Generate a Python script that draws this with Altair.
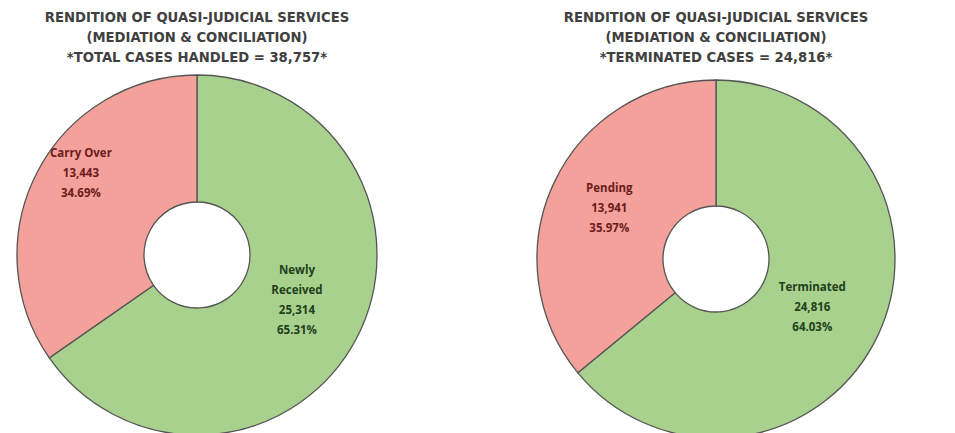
import altair as alt
import pandas as pd

# ---- data ----
left_names = ["Newly\nReceived", "Carry Over"]
left_values = [25314, 13443]
left_pcts = ["65.31%", "34.69%"]
left_title = ["RENDITION OF QUASI-JUDICIAL SERVICES",
              "(MEDIATION & CONCILIATION)",
              "*TOTAL CASES HANDLED = 38,757*"]

right_names = ["Terminated", "Pending"]
right_values = [24816, 13941]
right_pcts = ["64.03%", "35.97%"]
right_title = ["RENDITION OF QUASI-JUDICIAL SERVICES",
               "(MEDIATION & CONCILIATION)",
               "*TERMINATED CASES = 24,816*"]

rows = []
for d, names, vals, pcts in [("L", left_names, left_values, left_pcts),
                             ("R", right_names, right_values, right_pcts)]:
    for i, (n, v, p) in enumerate(zip(names, vals, pcts)):
        rows.append({"donut": d, "cat": n.replace("\n", " "), "value": v,
                     "ord": i + 1, "label": f"{n}\n{v:,}\n{p}",
                     "kind": "green" if i == 0 else "pink"})
df = pd.DataFrame(rows)

GREEN = "#A9D18E"
PINK = "#F4A19B"
DKGREEN = "#22401A"
DKRED = "#6B1C1C"

color_scale = alt.Scale(domain=["green", "pink"], range=[GREEN, PINK])

base = alt.Chart(df)

def donut(d, cx, cy, R, r_in, green_lbl, pink_lbl, title_lines):
    b = base.transform_filter(alt.datum.donut == d)
    theta = alt.Theta("value:Q", stack=True)
    order = alt.Order("ord:Q")
    arcs = b.mark_arc(outerRadius=R, innerRadius=r_in, stroke="#555555",
                      strokeWidth=1.3).encode(
        x=alt.value(cx), y=alt.value(cy), theta=theta, order=order,
        color=alt.Color("kind:N", scale=color_scale, legend=None))
    layers = [arcs]
    for (rad, dx, dy), col, o in [(green_lbl, DKGREEN, 1), (pink_lbl, DKRED, 2)]:
        layers.append(b.mark_text(radius=rad, dx=dx, dy=dy, lineBreak="\n",
                                  lineHeight=20, font="Open Sans", fontSize=11.5,
                                  fontWeight="bold", color=col,
                                  baseline="middle", align="center").encode(
            x=alt.value(cx), y=alt.value(cy), theta=theta, order=order,
            text=alt.condition(f"datum.ord == {o}", alt.Text("label:N"),
                               alt.value(""))))
    tdf = pd.DataFrame({"t": ["\n".join(title_lines)]})
    layers.append(alt.Chart(tdf).mark_text(lineBreak="\n", lineHeight=20,
                                           font="DejaVu Sans", fontSize=13.2,
                                           fontWeight="bold", color="#404040",
                                           baseline="middle", align="center").encode(
        x=alt.value(cx), y=alt.value(10), text="t:N"))
    return layers

layers = donut("L", 189, 247, 180, 53, (115, -2, -37), (140, 8, -36), left_title) + \
         donut("R", 708, 251, 179, 53, (112, -5, -19), (118, 0, -20), right_title)

chart = alt.layer(*layers).properties(
    width=939, height=425, autosize=alt.AutoSizeParams(type="none"),
    padding=0, background="white"
).configure_view(stroke=None)

chart.save("out.html", embed_options={"renderer": "svg", "actions": False})
